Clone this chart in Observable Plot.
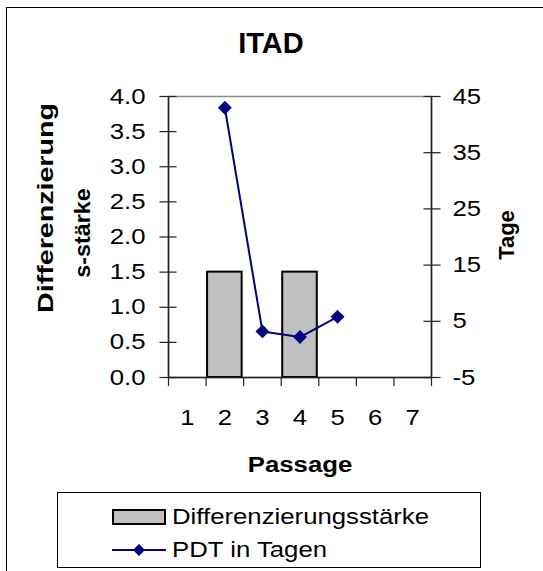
<!DOCTYPE html>
<html><head><meta charset="utf-8">
<script src="https://cdn.jsdelivr.net/npm/d3@7"></script>
<script src="https://cdn.jsdelivr.net/npm/@observablehq/plot@0.6"></script>
<style>
body{margin:0;background:#fff;font-family:"Liberation Sans",Arial,sans-serif;}
#wrap{position:relative;width:543px;height:571px;overflow:hidden;background:#fff;}
#frame{position:absolute;left:6px;top:7px;width:700px;height:700px;border-left:1.5px solid #000;border-top:1.5px solid #000;}
#chart{position:absolute;left:0;top:0;}
#title{position:absolute;left:0;width:542px;top:25px;text-align:center;font-weight:bold;font-size:29px;line-height:36px;}
#legend{position:absolute;left:57px;top:492px;width:424px;height:76px;border:1.5px solid #000;box-sizing:border-box;font-size:22px;}
.row{position:absolute;left:54px;height:26px;display:flex;align-items:center;white-space:nowrap;}
.row svg{margin-right:6px;flex:none;}
.row span{display:inline-block;transform:scaleX(1.17);transform-origin:0 50%;}
</style></head><body>
<div id="wrap"><div id="frame"></div><div id="chart"></div><div id="title">ITAD</div><div id="legend"></div></div>
<script>
// data
const passages = [1, 2, 3, 4, 5, 6, 7];
const diffPassages = [2, 4];
const diffValues = [1.5, 1.5];
const pdtPassages = [2, 3, 4, 5];
const pdtValues = [43, 3.2, 2.2, 5.8];
const leftTicks = [0, 0.5, 1, 1.5, 2, 2.5, 3, 3.5, 4];
const rightTicks = [-5, 5, 15, 25, 35, 45];
const leftDomain = [0, 4];
const rightDomain = [-5, 45];
const titleText = "ITAD";
const xLabel = "Passage";
const yLabelLines = ["Differenzierung", "s-stärke"];
const y2Label = "Tage";
const seriesNames = ["Differenzierungsstärke", "PDT in Tagen"];

const barColor = "#c0c0c0";
const lineColor = "#000080";

// map right-axis values onto left scale
const toLeft = v => leftDomain[0] + (v - rightDomain[0]) / (rightDomain[1] - rightDomain[0]) * (leftDomain[1] - leftDomain[0]);
const fromLeft = y => rightDomain[0] + (y - leftDomain[0]) / (leftDomain[1] - leftDomain[0]) * (rightDomain[1] - rightDomain[0]);

const bars = diffPassages.map((p, i) => ({p, v: diffValues[i]}));
const pdt = pdtPassages.map((p, i) => ({p, v: pdtValues[i], y: toLeft(pdtValues[i])}));
const bounds = [passages[0] - 0.5, ...passages.map(p => p + 0.5)];

const font = "Liberation Sans, Arial, sans-serif";

const chart = Plot.plot({
  width: 543, height: 571,
  marginLeft: 168, marginRight: 112, marginTop: 96, marginBottom: 194,
  style: {fontFamily: font, fontSize: "21px", background: "transparent", color: "#000", overflow: "visible"},
  x: {domain: [bounds[0], bounds[bounds.length - 1]], axis: null},
  y: {domain: leftDomain, axis: null},
  marks: [
    Plot.frame({stroke: "#8a8a8a", strokeWidth: 1.5}),
    Plot.rectY(bars, {x1: d => d.p - 0.5, x2: d => d.p + 0.5, y1: 0, y2: "v", fill: barColor, stroke: "#000", strokeWidth: 2, insetLeft: 1.5, insetRight: 1.5}),
    // axis lines
    Plot.ruleX([bounds[0]], {stroke: "#222", strokeWidth: 1.5}),
    Plot.ruleX([bounds[bounds.length - 1]], {stroke: "#222", strokeWidth: 1.5}),
    Plot.ruleY([leftDomain[0]], {stroke: "#222", strokeWidth: 1.5}),
    // left axis
    Plot.axisY(leftTicks, {anchor: "left", tickSize: 17, dx: 8.5, tickFormat: () => "", stroke: "#222", strokeWidth: 1.2, label: null}),
    Plot.axisY(leftTicks, {anchor: "left", tickSize: 0, tickPadding: 23, tickFormat: d3.format(".1f"), fontSize: 22, label: null, className: "stretch"}),
    // right axis
    Plot.axisY(rightTicks.map(toLeft), {anchor: "right", tickSize: 17, dx: -8.5, tickFormat: () => "", stroke: "#222", strokeWidth: 1.2, label: null}),
    Plot.axisY(rightTicks.map(toLeft), {anchor: "right", tickSize: 0, tickPadding: 21, tickFormat: d => String(Math.round(fromLeft(d))), fontSize: 22, label: null, className: "stretch"}),
    // bottom axis
    Plot.axisX(bounds, {anchor: "bottom", tickSize: 9, tickFormat: () => "", stroke: "#222", strokeWidth: 1.2, label: null}),
    Plot.axisX(passages, {anchor: "bottom", tickSize: 0, tickPadding: 32, fontSize: 22, label: null, className: "stretch"}),
    // series line
    Plot.line(pdt, {x: "p", y: "y", stroke: lineColor, strokeWidth: 2}),
    Plot.dot(pdt, {x: "p", y: "y", symbol: "diamond2", r: 5.3, fill: lineColor, stroke: lineColor}),
    // axis titles
    Plot.text([xLabel], {frameAnchor: "bottom", dy: 87, textAnchor: "middle", lineAnchor: "middle", fontWeight: "bold", fontSize: 22, className: "stretch"}),
    Plot.text([yLabelLines[0]], {frameAnchor: "left", dx: -123, dy: -29, rotate: -90, textAnchor: "middle", lineAnchor: "middle", fontWeight: "bold", fontSize: 22, className: "stretchlong"}),
    Plot.text([yLabelLines[1]], {frameAnchor: "left", dx: -86, dy: -4, rotate: -90, textAnchor: "middle", lineAnchor: "middle", fontWeight: "bold", fontSize: 22, className: "stretchshort"}),
    Plot.text([y2Label], {frameAnchor: "right", dx: 75, dy: -2, rotate: -90, textAnchor: "middle", lineAnchor: "middle", fontWeight: "bold", fontSize: 22})
  ]
});
document.getElementById("chart").appendChild(chart);
document.getElementById("title").textContent = titleText;

// widen glyphs to match the reference's stretched lettering
function stretch(sel, k) {
  chart.querySelectorAll(sel).forEach(t => {
    const len = t.getComputedTextLength();
    if (len > 0) {
      t.setAttribute("textLength", (len * k).toFixed(1));
      t.setAttribute("lengthAdjust", "spacingAndGlyphs");
    }
  });
}
stretch(".stretch text", 1.17);
stretch(".stretchlong text", 1.3);
stretch(".stretchshort text", 1.06);

// legend
const legend = document.getElementById("legend");
function row(top, swatch, label) {
  const r = document.createElement("div");
  r.className = "row";
  r.style.top = top + "px";
  r.innerHTML = swatch + `<span>${label}</span>`;
  legend.appendChild(r);
}
row(11, `<svg width="54" height="16"><rect x="1" y="1" width="52" height="14" fill="${barColor}" stroke="#000" stroke-width="2"/></svg>`, seriesNames[0]);
row(44, `<svg width="54" height="16"><line x1="0" x2="54" y1="8" y2="8" stroke="${lineColor}" stroke-width="2"/><path d="M27,2L33,8L27,14L21,8Z" fill="${lineColor}"/></svg>`, seriesNames[1]);
</script>
</body></html>
